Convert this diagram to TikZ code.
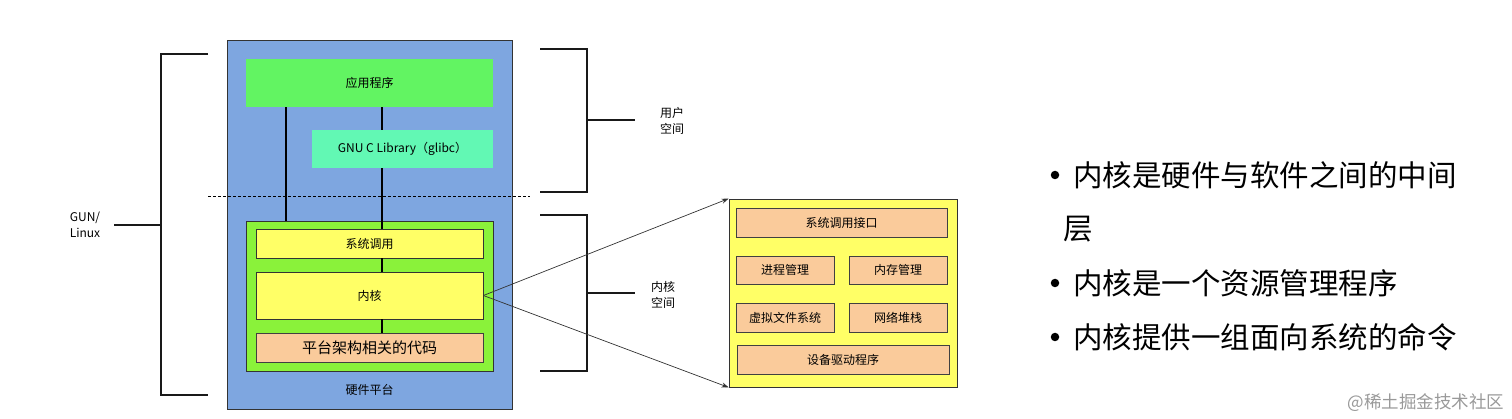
\documentclass[tikz,border=0pt]{standalone}
\usepackage{fontspec}
\setmainfont{Noto Sans CJK SC}
\usepackage{tikz}
\usetikzlibrary{arrows.meta}
\definecolor{hwblue}{HTML}{7EA6E0}
\definecolor{appgreen}{HTML}{62F462}
\definecolor{libmint}{HTML}{62F8B4}
\definecolor{kerlime}{HTML}{8AF23A}
\definecolor{kyellow}{HTML}{FFFF66}
\definecolor{kpeach}{HTML}{FACB9B}

\begin{document}
\begin{tikzpicture}[x=1pt,y=-1pt,
  every node/.style={font=\fontsize{12}{16}\selectfont,align=center,inner sep=0pt},
  box/.style={draw=black!80,line width=0.8pt,fill=kyellow},
  part/.style={draw=black!75,line width=0.8pt,fill=kpeach},
  link/.style={line width=1.4pt},
  brace/.style={line width=1.4pt,black!90},
  arr/.style={-{Stealth[length=7pt,width=5pt]},line width=0.7pt,black!80},
  dot/.style={circle,fill=black,minimum size=8.5pt},
  bullet/.style={anchor=west,font=\fontsize{29.5}{32}\selectfont}
]
  \useasboundingbox (0,0) rectangle (1512,419);

  % hardware platform and user space
  \node[draw=black!80,line width=1pt,fill=hwblue,minimum width=285pt,minimum height=368pt]
    (hw) at (369.5,225) {};
  \node (hwlabel) at (369.5,390) {硬件平台};
  \node[fill=appgreen,minimum width=247pt,minimum height=48pt] (app) at (369.5,83) {应用程序};
  \node[fill=libmint,minimum width=181pt,minimum height=38pt] (glibc) at (402.5,149)
    {GNU C Library（glibc）};

  % kernel stack
  \node[draw=black!80,line width=0.8pt,fill=kerlime,minimum width=247pt,minimum height=150pt]
    (lime) at (369.5,296) {};
  \node[box,minimum width=227pt,minimum height=29pt] (sys) at (369.5,243.5) {系统调用};
  \node[box,minimum width=227pt,minimum height=47pt] (kern) at (369.5,295.5) {内核};
  \node[part,minimum width=227pt,minimum height=29pt,font=\fontsize{15}{18}\selectfont]
    (arch) at (369.5,347.5) {平台架构相关的代码};

  \coordinate (lx) at (286,0);
  \coordinate (rx) at (382,0);
  \draw[link] (app.south -| lx) -- (lime.north -| lx);
  \draw[link] (app.south -| rx) -- (glibc.north -| rx);
  \draw[link] (glibc.south -| rx) -- (sys.north -| rx);
  \draw[link] (sys.south -| rx) -- (kern.north -| rx);
  \draw[link] (kern.south -| rx) -- (arch.north -| rx);

  \draw[line width=0.7pt,dash pattern=on 3pt off 2pt] (208,196) -- (530,196);

  % brackets
  \node (gnu) at (85,225) {GUN/\\Linux};
  \draw[brace] (208,54) -- (161,54) -- (161,395) -- (208,395);
  \draw[brace] (161,225) -- (114,225);
  \node (user) at (672,121) {用户\\空间};
  \draw[brace] (540,49) -- (587,49) -- (587,192) -- (540,192);
  \draw[brace] (587,120) -- (635,120);
  \node (kspace) at (663,295) {内核\\空间};
  \draw[brace] (540,215) -- (587,215) -- (587,371) -- (540,371);
  \draw[brace] (587,293) -- (635,293);

  % kernel detail
  \node[box,minimum width=228pt,minimum height=188pt] (detail) at (843,293) {};
  \node[part,minimum width=211pt,minimum height=29pt] (sci) at (841.5,222.5) {系统调用接口};
  \node[part,minimum width=98pt,minimum height=28pt] (proc) at (785,270) {进程管理};
  \node[part,minimum width=98pt,minimum height=28pt] (mem) at (898,270) {内存管理};
  \node[part,minimum width=98pt,minimum height=29pt] (vfs) at (785,317.5) {虚拟文件系统};
  \node[part,minimum width=98pt,minimum height=29pt] (net) at (898,317.5) {网络堆栈};
  \node[part,minimum width=212pt,minimum height=29pt] (drv) at (843,359.5) {设备驱动程序};
  \draw[arr] (kern.east) -- (detail.north west);
  \draw[arr] (kern.east) -- (detail.south west);

  % bullets
  \node[dot] (d1) at (1055,175) {};
  \node[bullet] (t1) at (1073,175) {内核是硬件与软件之间的中间};
  \node[bullet] (t1b) at (1063,229) {层};
  \node[dot] (d2) at (1055,283) {};
  \node[bullet] (t2) at (1073,283) {内核是一个资源管理程序};
  \node[dot] (d3) at (1055,337) {};
  \node[bullet] (t3) at (1073,337) {内核提供一组面向系统的命令};

  \node[text=black!40,font=\fontsize{17.5}{20}\selectfont] (mark) at (1426,403) {@稀土掘金技术社区};
\end{tikzpicture}
\end{document}
